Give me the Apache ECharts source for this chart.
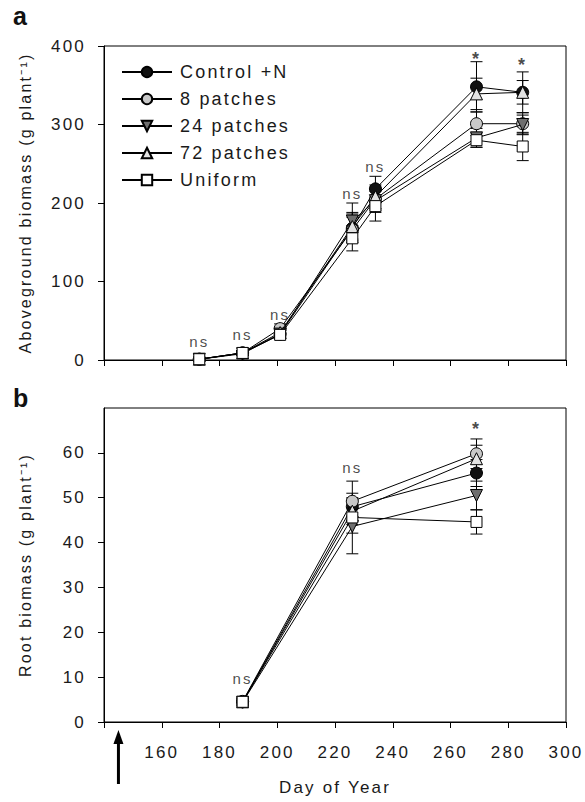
<!DOCTYPE html>
<html>
<head>
<meta charset="utf-8">
<script src="https://cdn.jsdelivr.net/npm/echarts@6/dist/echarts.min.js"></script>
<style>
  html, body { margin: 0; padding: 0; background: #fff; }
  #main { width: 585px; height: 802px; }
  #main text { letter-spacing: 2.2px; }
</style>
</head>
<body>
<div id="main"></div>
<script>
// ---------- data ----------
const seriesNames = ['Control +N', '8 patches', '24 patches', '72 patches', 'Uniform'];

// Panel a: aboveground biomass
const aboveDays = [173, 188, 201, 226, 234, 269, 285];
const aboveControl = [1, 9, 33, 168, 218, 348, 341];
const above8 = [1, 9, 40, 166, 205, 301, 301];
const above24 = [1, 8, 33, 177, 203, 283, 300];
const above72 = [1, 9, 35, 170, 208, 339, 341];
const aboveUniform = [1, 9, 32, 155, 196, 280, 272];
const aboveErrControl = [2, 3, 5, 18, 16, 32, 26];
const aboveErr8 = [2, 3, 6, 16, 14, 15, 14];
const aboveErr24 = [2, 3, 5, 23, 15, 12, 12];
const aboveErr72 = [2, 3, 5, 18, 15, 20, 15];
const aboveErrUniform = [2, 3, 5, 16, 19, 9, 18];
const aboveSigDays = [173, 188, 201, 226, 234, 269, 285];
const aboveSigY = [24, 32, 58, 212, 246, 384, 376];
const aboveSigText = ['ns', 'ns', 'ns', 'ns', 'ns', '*', '*'];

// Panel b: root biomass
const rootDays = [188, 226, 269];
const rootControl = [4.5, 48.0, 55.5];
const root8 = [4.6, 49.2, 59.8];
const root24 = [4.4, 43.6, 50.5];
const root72 = [4.5, 47.0, 58.7];
const rootUniform = [4.5, 45.6, 44.6];
const rootErrControl = [0.8, 3.0, 3.0];
const rootErr8 = [0.8, 4.5, 3.3];
const rootErr24 = [0.9, 6.1, 3.2];
const rootErr72 = [0.8, 3.0, 3.0];
const rootErrUniform = [0.6, 3.5, 2.7];
const rootSigDays = [188, 226, 269];
const rootSigY = [9.8, 56.8, 65.3];
const rootSigText = ['ns', 'ns', '*'];

const xTicks = [140, 160, 180, 200, 220, 240, 260, 280, 300];
const aboveYTicks = [0, 100, 200, 300, 400];
const rootYTicks = [0, 10, 20, 30, 40, 50, 60];
const arrowDay = 145;

// ---------- styles ----------
const FONT = "'Liberation Sans', Arial, sans-serif";
const styles = [
  { symbol: 'circle', rotate: 0, fill: '#111111', size: 12 },
  { symbol: 'circle', rotate: 0, fill: '#c8c8c8', size: 12 },
  { symbol: 'triangle', rotate: 180, fill: '#6f6f6f', size: 12 },
  { symbol: 'triangle', rotate: 0, fill: '#e2e2e2', size: 12 },
  { symbol: 'rect', rotate: 0, fill: '#ffffff', size: 11 }
];

const aboveVals = [aboveControl, above8, above24, above72, aboveUniform];
const aboveErrs = [aboveErrControl, aboveErr8, aboveErr24, aboveErr72, aboveErrUniform];
const rootVals = [rootControl, root8, root24, root72, rootUniform];
const rootErrs = [rootErrControl, rootErr8, rootErr24, rootErr72, rootErrUniform];

function errRender(params, api) {
  const x = api.value(0), y = api.value(1), e = api.value(2);
  const p = api.coord([x, y + e]);
  const q = api.coord([x, y - e]);
  const w = 6;
  const st = { stroke: '#000', lineWidth: 1 };
  return {
    type: 'group',
    children: [
      { type: 'line', shape: { x1: p[0], y1: p[1], x2: q[0], y2: q[1] }, style: st },
      { type: 'line', shape: { x1: p[0] - w, y1: p[1], x2: p[0] + w, y2: p[1] }, style: st },
      { type: 'line', shape: { x1: q[0] - w, y1: q[1], x2: q[0] + w, y2: q[1] }, style: st }
    ]
  };
}

const series = [];
function addPanel(idx, days, vals, errs, sigDays, sigY, sigText) {
  vals.forEach((v, i) => {
    series.push({
      type: 'custom',
      xAxisIndex: idx, yAxisIndex: idx,
      renderItem: errRender,
      data: days.map((d, k) => [d, v[k], errs[i][k]]),
      z: 1, silent: true
    });
  });
  vals.forEach((v, i) => {
    const s = styles[i];
    series.push({
      name: seriesNames[i],
      type: 'line',
      xAxisIndex: idx, yAxisIndex: idx,
      data: days.map((d, k) => [d, v[k]]),
      symbol: s.symbol,
      symbolRotate: s.rotate,
      symbolSize: s.size,
      showAllSymbol: true,
      lineStyle: { color: '#000', width: 1 },
      itemStyle: { color: s.fill, borderColor: '#000', borderWidth: 1, opacity: 1 },
      z: 2 + i * 0.01,
      animation: false
    });
  });
  series.push({
    type: 'scatter',
    xAxisIndex: idx, yAxisIndex: idx,
    symbolSize: 0,
    silent: true,
    data: sigDays.map((d, k) => ({
      value: [d, sigY[k]], name: sigText[k],
      label: sigText[k] === '*' ? { fontSize: 18, fontWeight: 'bold' } : { fontSize: 15 }
    })),
    label: {
      show: true, position: 'inside',
      formatter: p => p.name,
      fontFamily: FONT,
      color: '#1a1a1a'
    },
    z: 5
  });
}
addPanel(0, aboveDays, aboveVals, aboveErrs, aboveSigDays, aboveSigY, aboveSigText);
addPanel(1, rootDays, rootVals, rootErrs, rootSigDays, rootSigY, rootSigText);

const axisCommon = {
  type: 'value',
  min: 140, max: 300, interval: 20,
  axisLine: { show: true, onZero: false, lineStyle: { color: '#000', width: 1 } },
  axisTick: { show: true, inside: false, length: 6, lineStyle: { color: '#000' } },
  splitLine: { show: false }
};

const option = {
  animation: false,
  backgroundColor: '#fff',
  textStyle: { fontFamily: FONT },
  grid: [
    { left: 104, top: 46, width: 462, height: 314, show: true, borderColor: '#000', borderWidth: 1, backgroundColor: 'transparent' },
    { left: 104, top: 408, width: 462, height: 314, show: true, borderColor: '#000', borderWidth: 1, backgroundColor: 'transparent' }
  ],
  xAxis: [
    Object.assign({}, axisCommon, { gridIndex: 0, axisLabel: { show: false } }),
    Object.assign({}, axisCommon, {
      gridIndex: 1,
      axisLabel: {
        show: true, margin: 22, fontSize: 17, color: '#1a1a1a', fontFamily: FONT,
        formatter: v => (v === xTicks[0] ? '' : String(v))
      },
      name: 'Day of Year',
      nameLocation: 'middle',
      nameGap: 57,
      nameTextStyle: { fontSize: 17, color: '#1a1a1a', fontFamily: FONT }
    })
  ],
  yAxis: [
    {
      gridIndex: 0, type: 'value', min: 0, max: 400, interval: 100,
      axisLine: { show: true, lineStyle: { color: '#000', width: 1 } },
      axisTick: { show: true, length: 6, lineStyle: { color: '#000' } },
      axisLabel: { margin: 18, fontSize: 17, color: '#1a1a1a', fontFamily: FONT },
      splitLine: { show: false },
      name: 'Aboveground biomass (g plant\u207B\u00B9)',
      nameLocation: 'middle', nameGap: 71, nameRotate: 90,
      nameTextStyle: { fontSize: 16, color: '#1a1a1a', fontFamily: FONT }
    },
    {
      gridIndex: 1, type: 'value', min: 0, max: 70, interval: 10,
      axisLine: { show: true, lineStyle: { color: '#000', width: 1 } },
      axisTick: { show: true, length: 6, lineStyle: { color: '#000' }, customValues: rootYTicks },
      axisLabel: { margin: 18, fontSize: 17, color: '#1a1a1a', fontFamily: FONT, customValues: rootYTicks },
      splitLine: { show: false },
      name: 'Root biomass (g plant\u207B\u00B9)',
      nameLocation: 'middle', nameGap: 71, nameRotate: 90,
      nameTextStyle: { fontSize: 16, color: '#1a1a1a', fontFamily: FONT }
    }
  ],
  legend: {
    data: seriesNames,
    orient: 'vertical',
    left: 116, top: 58,
    itemWidth: 50, itemHeight: 13,
    itemGap: 9,
    textStyle: { fontSize: 18, color: '#1a1a1a', fontFamily: FONT, padding: [0, 0, 0, 3] },
    selectedMode: false
  },
  series: series
};

const chart = echarts.init(document.getElementById('main'), null, { renderer: 'svg' });
chart.setOption(option);
const ax = chart.convertToPixel({ xAxisIndex: 1 }, arrowDay);
chart.setOption({
  graphic: [
    { type: 'text', left: 13, top: 3, style: { text: 'a', font: "bold 25px " + FONT, fill: '#111' } },
    { type: 'text', left: 13, top: 385, style: { text: 'b', font: "bold 25px " + FONT, fill: '#111' } },
    { type: 'line', shape: { x1: ax, y1: 784, x2: ax, y2: 740 }, style: { stroke: '#000', lineWidth: 3 } },
    { type: 'polygon', shape: { points: [[ax - 5, 744], [ax + 5, 744], [ax, 730]] }, style: { fill: '#000' } }
  ]
});
</script>
</body>
</html>
